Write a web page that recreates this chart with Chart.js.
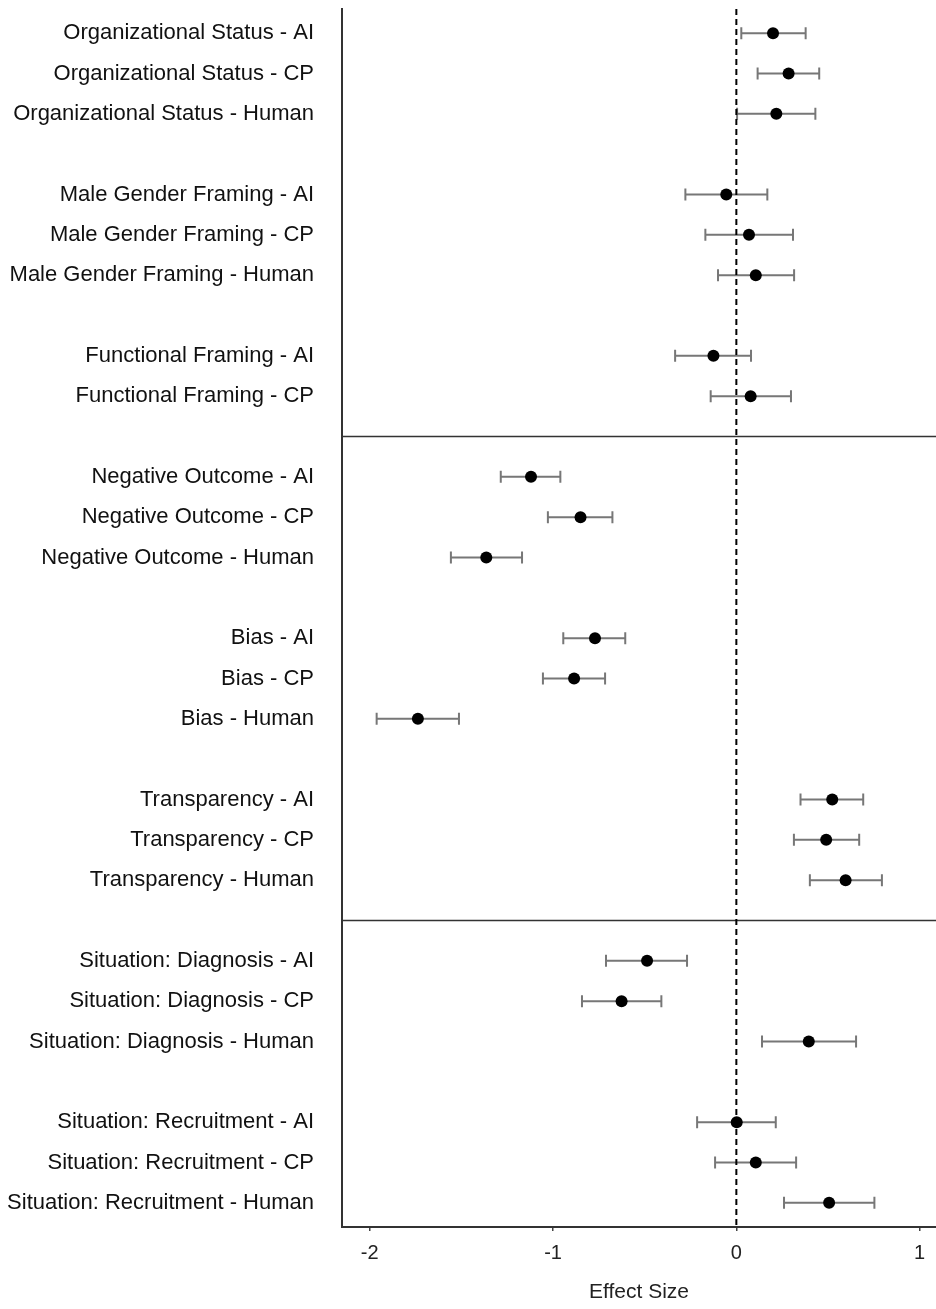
<!DOCTYPE html>
<html>
<head>
<meta charset="utf-8">
<script src="https://cdn.jsdelivr.net/npm/chart.js@4/dist/chart.umd.min.js"></script>
<style>
  html, body { margin: 0; padding: 0; background: #fff; }
  #wrap { width: 936px; height: 1309px; position: relative; }
</style>
</head>
<body>
<div id="wrap"><canvas id="forest"></canvas></div>
<script>
// Category labels, top to bottom
const labels = [
  'Organizational Status - AI', 'Organizational Status - CP', 'Organizational Status - Human',
  'Male Gender Framing - AI', 'Male Gender Framing - CP', 'Male Gender Framing - Human',
  'Functional Framing - AI', 'Functional Framing - CP',
  'Negative Outcome - AI', 'Negative Outcome - CP', 'Negative Outcome - Human',
  'Bias - AI', 'Bias - CP', 'Bias - Human',
  'Transparency - AI', 'Transparency - CP', 'Transparency - Human',
  'Situation: Diagnosis - AI', 'Situation: Diagnosis - CP', 'Situation: Diagnosis - Human',
  'Situation: Recruitment - AI', 'Situation: Recruitment - CP', 'Situation: Recruitment - Human'
];

// how many rows each group has (a blank slot sits between groups)
const groupSizes = [3, 3, 2, 3, 3, 3, 3, 3];
// groups after which a panel separator line is drawn
const panelBreaks = [2, 5];

// effect size estimates and confidence limits
const estimate = [
  0.20, 0.285, 0.218,
  -0.055, 0.069, 0.106,
  -0.125, 0.078,
  -1.12, -0.85, -1.364,
  -0.771, -0.885, -1.737,
  0.523, 0.490, 0.596,
  -0.487, -0.626, 0.395,
  0.002, 0.106, 0.506
];
const lower = [
  0.027, 0.116, 0.004,
  -0.278, -0.169, -0.100,
  -0.334, -0.140,
  -1.285, -1.028, -1.557,
  -0.944, -1.055, -1.962,
  0.350, 0.314, 0.401,
  -0.711, -0.842, 0.140,
  -0.214, -0.116, 0.260
];
const upper = [
  0.378, 0.452, 0.431,
  0.169, 0.309, 0.315,
  0.080, 0.298,
  -0.960, -0.676, -1.169,
  -0.606, -0.716, -1.513,
  0.692, 0.670, 0.794,
  -0.269, -0.409, 0.653,
  0.215, 0.326, 0.753
];
const xTicks = [-2, -1, 0, 1];

// work out row slots (gap slot between groups)
const rowPos = [];
const breakPos = [];
let slot = 0;
groupSizes.forEach((n, g) => {
  for (let i = 0; i < n; i++) rowPos.push(slot++);
  if (panelBreaks.includes(g)) breakPos.push(slot);
  slot++;
});
const labelAt = {};
rowPos.forEach((p, i) => { labelAt[p] = labels[i]; });

// don't let tick labels push the plot area around
function noPadding(axis) {
  axis.paddingTop = 0;
  axis.paddingBottom = 0;
  axis.paddingLeft = 0;
  axis.paddingRight = 0;
}

// reference line, separators and error bars drawn under the points
const forestPlugin = {
  id: 'forest',
  beforeDatasetsDraw(chart) {
    const { ctx, chartArea, scales } = chart;
    const xs = scales.x, ys = scales.y;
    ctx.save();

    // panel separators
    ctx.strokeStyle = '#333';
    ctx.lineWidth = 1.6;
    breakPos.forEach(b => {
      const y = ys.getPixelForValue(b);
      ctx.beginPath();
      ctx.moveTo(chartArea.left, y);
      ctx.lineTo(chartArea.right, y);
      ctx.stroke();
    });

    // error bars
    ctx.strokeStyle = '#777';
    ctx.lineWidth = 2;
    rowPos.forEach((p, i) => {
      const y = ys.getPixelForValue(p);
      const x0 = xs.getPixelForValue(lower[i]);
      const x1 = xs.getPixelForValue(upper[i]);
      ctx.beginPath();
      ctx.moveTo(x0, y); ctx.lineTo(x1, y);
      ctx.moveTo(x0, y - 6); ctx.lineTo(x0, y + 6);
      ctx.moveTo(x1, y - 6); ctx.lineTo(x1, y + 6);
      ctx.stroke();
    });

    // zero line
    const zx = xs.getPixelForValue(0);
    ctx.strokeStyle = '#000';
    ctx.lineWidth = 2;
    ctx.setLineDash([6, 4]);
    ctx.beginPath();
    ctx.moveTo(zx, chartArea.top);
    ctx.lineTo(zx, chartArea.bottom);
    ctx.stroke();
    ctx.restore();
  }
};

const ctx = document.getElementById('forest').getContext('2d');
new Chart(ctx, {
  type: 'scatter',
  data: {
    datasets: [{
      data: rowPos.map((p, i) => ({ x: estimate[i], y: p })),
      pointRadius: 6,
      pointHoverRadius: 6,
      backgroundColor: '#000',
      borderWidth: 0
    }]
  },
  options: {
    responsive: true,
    maintainAspectRatio: false,
    animation: false,
    layout: { autoPadding: false, padding: { top: 9, right: 0, left: 0, bottom: 0 } },
    plugins: { legend: { display: false }, tooltip: { enabled: false } },
    scales: {
      x: {
        type: 'linear',
        min: -2.151,
        max: 1.089,
        afterBuildTicks: axis => { axis.ticks = xTicks.map(v => ({ value: v })); },
        afterFit: axis => { axis.height = 82; noPadding(axis); },
        grid: { drawOnChartArea: false, drawTicks: true, tickLength: 4, color: '#444', lineWidth: 1.5 },
        border: { display: true, color: '#333', width: 2 },
        ticks: {
          padding: 10,
          color: '#222',
          font: { family: '"Liberation Sans", Arial, sans-serif', size: 20 }
        },
        title: {
          display: true,
          text: 'Effect Size',
          color: '#222',
          padding: { top: 0, bottom: 4 },
          font: { family: '"Liberation Sans", Arial, sans-serif', size: 21 }
        }
      },
      y: {
        type: 'linear',
        reverse: true,
        min: -0.6,
        max: 29.6,
        afterBuildTicks: axis => { axis.ticks = rowPos.map(v => ({ value: v })); },
        afterFit: axis => { axis.width = 342; noPadding(axis); },
        grid: { display: false, drawTicks: false },
        border: { display: true, color: '#333', width: 2 },
        ticks: {
          autoSkip: false,
          padding: 28,
          color: '#111',
          font: { family: '"Liberation Sans", Arial, sans-serif', size: 22 },
          callback: v => labelAt[v] || ''
        }
      }
    }
  },
  plugins: [forestPlugin]
});
</script>
</body>
</html>
